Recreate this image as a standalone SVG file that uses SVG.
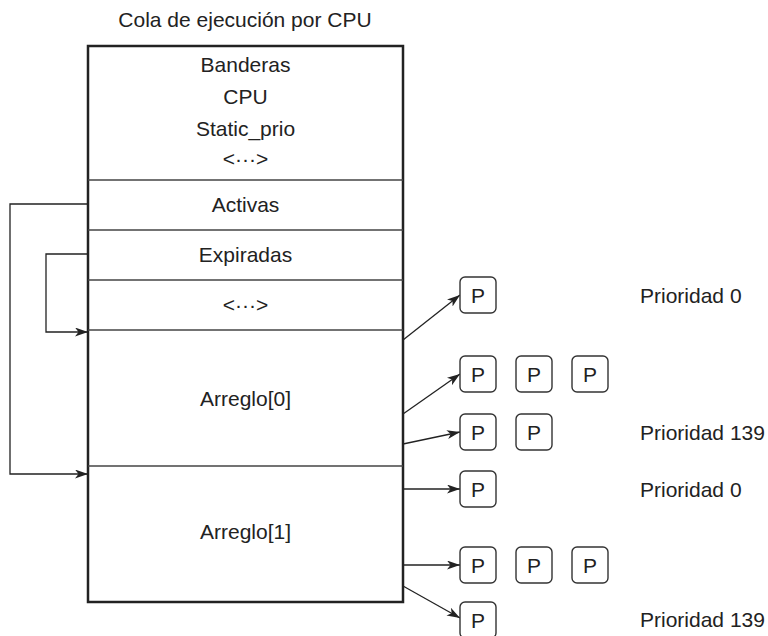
<svg xmlns="http://www.w3.org/2000/svg" width="768" height="636" viewBox="0 0 768 636">
<style>
text{font-family:"Liberation Sans",Arial,sans-serif;font-size:21px;fill:#222}
.c{text-anchor:middle}
.div{stroke:#444;stroke-width:1.5;fill:none}
.p{fill:#fff;stroke:#333;stroke-width:1.4}
.ln{stroke:#222;stroke-width:1.3;fill:none}
</style>
<defs>
<marker id="ah" markerUnits="userSpaceOnUse" markerWidth="14" markerHeight="10" refX="13" refY="4.5" orient="auto">
<path d="M0,0 L13,4.5 L0,9 L3.5,4.5 z" fill="#222"/>
</marker>
</defs>
<rect width="768" height="636" fill="#fff"/>
<text class="c" x="245" y="27">Cola de ejecución por CPU</text>
<g id="runqueue">
<rect x="88" y="46" width="315" height="556" fill="#fff" stroke="#222" stroke-width="2.5"/>
<line class="div" x1="88" y1="180" x2="403" y2="180"/>
<line class="div" x1="88" y1="230" x2="403" y2="230"/>
<line class="div" x1="88" y1="280" x2="403" y2="280"/>
<line class="div" x1="88" y1="330" x2="403" y2="330"/>
<line class="div" x1="88" y1="466" x2="403" y2="466"/>
<text class="c" x="245.5" y="72">Banderas</text>
<text class="c" x="245.5" y="104">CPU</text>
<text class="c" x="245.5" y="136">Static_prio</text>
<text class="c" x="245.5" y="166">&lt;···&gt;</text>
<text class="c" x="245.5" y="212">Activas</text>
<text class="c" x="245.5" y="262">Expiradas</text>
<text class="c" x="245.5" y="312">&lt;···&gt;</text>
<text class="c" x="245.5" y="406">Arreglo[0]</text>
<text class="c" x="245.5" y="539">Arreglo[1]</text>
</g>
<g id="connectors">
<path class="ln" d="M88,204 H10 V474 H88" marker-end="url(#ah)"/>
<path class="ln" d="M88,254 H46 V332 H88" marker-end="url(#ah)"/>
<line class="ln" x1="403" y1="340" x2="460" y2="295" marker-end="url(#ah)"/>
<line class="ln" x1="403" y1="414" x2="460" y2="374" marker-end="url(#ah)"/>
<line class="ln" x1="403" y1="444" x2="460" y2="432" marker-end="url(#ah)"/>
<line class="ln" x1="403" y1="489" x2="460" y2="489" marker-end="url(#ah)"/>
<line class="ln" x1="403" y1="565" x2="460" y2="565" marker-end="url(#ah)"/>
<line class="ln" x1="403" y1="586" x2="460" y2="618" marker-end="url(#ah)"/>
</g>
<g id="p-r1"><rect class="p" x="460" y="277" width="36" height="36" rx="5"/><text class="c" x="478" y="303">P</text></g>
<g id="p-r2a"><rect class="p" x="460" y="356" width="36" height="36" rx="5"/><text class="c" x="478" y="382">P</text></g>
<g id="p-r2b"><rect class="p" x="516" y="356" width="36" height="36" rx="5"/><text class="c" x="534" y="382">P</text></g>
<g id="p-r2c"><rect class="p" x="572" y="356" width="36" height="36" rx="5"/><text class="c" x="590" y="382">P</text></g>
<g id="p-r3a"><rect class="p" x="460" y="414" width="36" height="36" rx="5"/><text class="c" x="478" y="440">P</text></g>
<g id="p-r3b"><rect class="p" x="516" y="414" width="36" height="36" rx="5"/><text class="c" x="534" y="440">P</text></g>
<g id="p-r4"><rect class="p" x="460" y="471" width="36" height="36" rx="5"/><text class="c" x="478" y="497">P</text></g>
<g id="p-r5a"><rect class="p" x="460" y="547" width="36" height="36" rx="5"/><text class="c" x="478" y="573">P</text></g>
<g id="p-r5b"><rect class="p" x="516" y="547" width="36" height="36" rx="5"/><text class="c" x="534" y="573">P</text></g>
<g id="p-r5c"><rect class="p" x="572" y="547" width="36" height="36" rx="5"/><text class="c" x="590" y="573">P</text></g>
<g id="p-r6"><rect class="p" x="460" y="602" width="36" height="36" rx="5"/><text class="c" x="478" y="628">P</text></g>
<g id="labels">
<text x="640" y="303">Prioridad 0</text>
<text x="640" y="440">Prioridad 139</text>
<text x="640" y="497">Prioridad 0</text>
<text x="640" y="627">Prioridad 139</text>
</g>
</svg>
